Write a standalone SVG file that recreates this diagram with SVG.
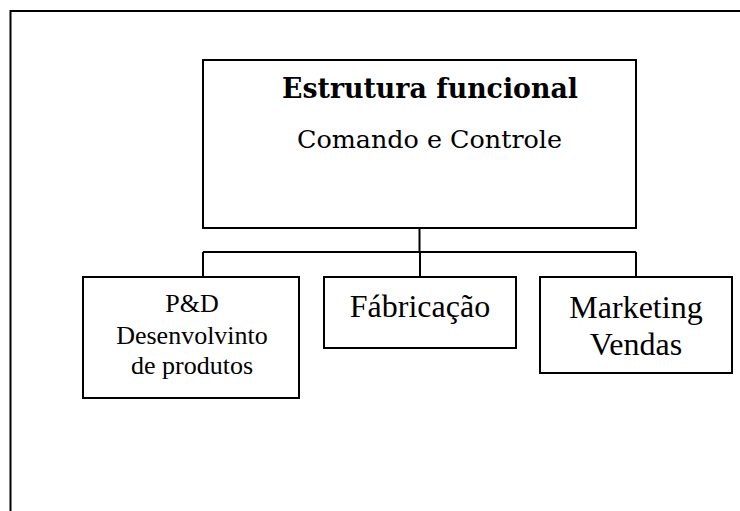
<svg xmlns="http://www.w3.org/2000/svg" width="740" height="511" viewBox="0 0 740 511">
<style>
.box{fill:#fff;stroke:#000;stroke-width:2}
.ln{fill:none;stroke:#000;stroke-width:2}
.h{font-family:"DejaVu Serif","Liberation Serif",serif;font-weight:bold;font-size:27px;fill:#000}
.s{font-family:"DejaVu Serif","Liberation Serif",serif;font-size:25px;fill:#000}
.t{font-family:"Liberation Serif","Times New Roman",serif;fill:#000;text-anchor:middle}
</style>
<rect width="740" height="511" fill="#fff"/>
<rect id="frame" x="10.5" y="11" width="740" height="520" fill="none" stroke="#000" stroke-width="2"/>
<g id="connectors">
<path class="ln" d="M419.5 228 V252 M203 252 H636 M203 252 V277 M420 252 V277 M636 252 V277"/>
</g>
<g id="main">
<rect class="box" x="203" y="60" width="433" height="168"/>
<text class="h" x="282" y="98" textLength="296" lengthAdjust="spacingAndGlyphs">Estrutura funcional</text>
<text class="s" x="297" y="148" textLength="265" lengthAdjust="spacingAndGlyphs">Comando e Controle</text>
</g>
<g id="pd">
<rect class="box" x="83" y="277" width="216" height="121"/>
<text class="t" x="192" y="312" font-size="26">P&amp;D</text>
<text class="t" x="192" y="344" font-size="26">Desenvolvinto</text>
<text class="t" x="192" y="374" font-size="26">de produtos</text>
</g>
<g id="fabricacao">
<rect class="box" x="324" y="277" width="192" height="71"/>
<text class="t" x="420" y="317" font-size="32">Fábricação</text>
</g>
<g id="marketing">
<rect class="box" x="540" y="277" width="192" height="96"/>
<text class="t" x="636" y="318" font-size="32">Marketing</text>
<text class="t" x="636" y="355" font-size="32">Vendas</text>
</g>
</svg>
